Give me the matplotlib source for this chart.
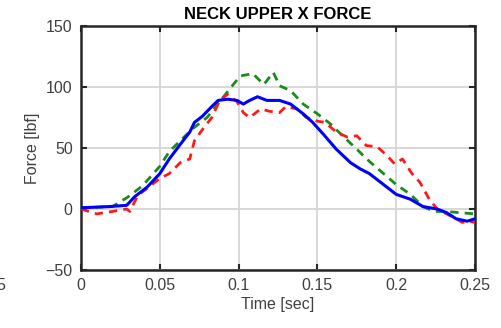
import numpy as np
import matplotlib.pyplot as plt

plt.rcParams['font.family'] = ['Liberation Sans', 'DejaVu Sans']

# values
t_blue = [0, 0.018, 0.029, 0.034, 0.042, 0.05, 0.056, 0.063, 0.069, 0.072, 0.077,
          0.083, 0.087, 0.093, 0.099, 0.103, 0.107, 0.112, 0.118, 0.126, 0.133,
          0.141, 0.147, 0.154, 0.162, 0.171, 0.177, 0.183, 0.192, 0.2, 0.209,
          0.217, 0.226, 0.232, 0.238, 0.245, 0.25]
f_blue = [1, 2, 3, 10, 18, 29, 41, 53, 63, 71, 76,
          84, 89, 90, 89, 86, 89, 92, 89, 89, 86,
          78, 71, 61, 49, 38, 33, 29, 20, 12, 8,
          2, 0, -3, -8, -10, -8]

t_green = [0, 0.02, 0.03, 0.039, 0.05, 0.056, 0.063, 0.071, 0.08, 0.088, 0.096,
           0.101, 0.109, 0.116, 0.122, 0.126, 0.133, 0.141, 0.15, 0.158, 0.166,
           0.175, 0.183, 0.192, 0.2, 0.209, 0.217, 0.224, 0.232, 0.24, 0.25]
f_green = [1, 2, 10, 19, 35, 47, 56, 66, 75, 88, 101,
           109, 111, 102, 112, 101, 97, 86, 78, 70, 60,
           49, 39, 29, 20, 12, 2, -2, -2, -3, -4]

t_red = [0, 0.01, 0.02, 0.029, 0.031, 0.036, 0.044, 0.05, 0.056, 0.063, 0.069,
         0.072, 0.077, 0.083, 0.088, 0.093, 0.099, 0.103, 0.107, 0.114, 0.12,
         0.126, 0.13, 0.137, 0.143, 0.15, 0.155, 0.162, 0.169, 0.175, 0.181,
         0.188, 0.194, 0.199, 0.204, 0.21, 0.215, 0.221, 0.226, 0.232, 0.238,
         0.242, 0.246, 0.25]
f_red = [0, -4, -2, 0, -2, 11, 19, 25, 29, 38, 41,
         56, 65, 75, 89, 94, 88, 79, 75, 82, 80,
         79, 84, 82, 75, 72, 71, 63, 59, 60, 52,
         51, 44, 37, 41, 29, 22, 8, 0, -4, -8,
         -11, -10, -11]

xticks = [0, 0.05, 0.1, 0.15, 0.2, 0.25]
xticklabels = ['0', '0.05', '0.1', '0.15', '0.2', '0.25']
yticks = [-50, 0, 50, 100, 150]

fig = plt.figure(figsize=(5.01, 3.28), dpi=100)
ax = fig.add_axes([81 / 501, 1 - 270 / 328, 394 / 501, 244 / 328])

ax.plot(t_green, f_green, color='#1a8c1a', lw=2, ls=(0, (3, 2.2)), zorder=3)
ax.plot(t_red, f_red, color='#ff1a1a', lw=2, ls=(0, (3, 2.2)), zorder=3)
ax.plot(t_blue, f_blue, color='#0000ff', lw=2.2, zorder=4)

ax.set_xlim(0, 0.25)
ax.set_ylim(-50, 150)
ax.set_xticks(xticks)
ax.set_xticklabels(xticklabels)
ax.set_yticks(yticks)
ax.grid(True, color='#d6d6d6', lw=1.3)
ax.set_axisbelow(True)

for s in ax.spines.values():
    s.set_color('#262626')
    s.set_linewidth(1.8)
ax.tick_params(direction='in', length=4, width=1.5, top=True, right=True,
               colors='#262626', labelsize=11.5, labelcolor='#404040', pad=6)

ax.set_title('NECK UPPER X FORCE', fontsize=12, fontweight='bold', pad=5)
ax.set_xlabel('Time [sec]', fontsize=11.5, color='#404040', labelpad=3)
ax.set_ylabel('Force [lbf]', fontsize=11.5, color='#404040', labelpad=4)

# clipped label of the neighbouring chart
fig.text(-0.008, 1 - 290 / 328, '5', fontsize=11.5, color='#404040')

fig.savefig('out.png', dpi=100)
